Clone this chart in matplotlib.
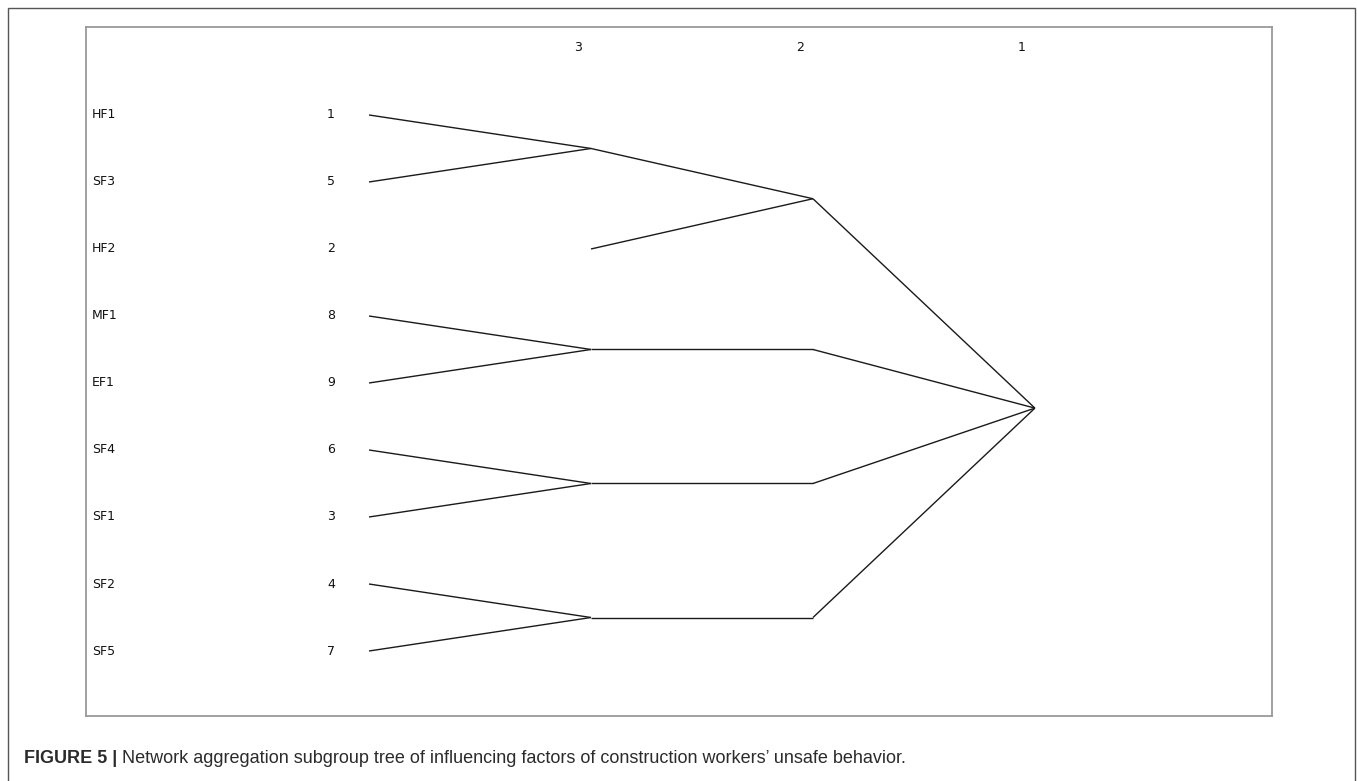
import numpy as np
import matplotlib
matplotlib.use('Agg')
import matplotlib.pyplot as plt
from matplotlib.patches import Rectangle

# Actors in row order (top to bottom) and their numeric ids
names = ['HF1', 'SF3', 'HF2', 'MF1', 'EF1', 'SF4', 'SF1', 'SF2', 'SF5']
ids = [1, 5, 2, 8, 9, 6, 3, 4, 7]

# Subgroups at each aggregation level (by actor id)
levels = [3, 2, 1]
groups = {
    3: [[1, 5], [2], [8, 9], [6, 3], [4, 7]],
    2: [[1, 5, 2], [8, 9], [6, 3], [4, 7]],
    1: [[1, 5, 2, 8, 9, 6, 3, 4, 7]],
}
leaf_level = 4

caption_bold = 'FIGURE 5 |'
caption_text = ' Network aggregation subgroup tree of influencing factors of construction workers\u2019 unsafe behavior.'

W, H = 1357, 781
fig = plt.figure(figsize=(W / 100, H / 100), dpi=100)
fig.patch.set_facecolor('white')

# outer frame of the figure panel
fig.add_artist(Rectangle((8 / W, -0.02), (1355 - 8) / W, 1.02 - 8 / H,
                         transform=fig.transFigure, fill=False,
                         edgecolor='#555555', linewidth=1.0))

ax = fig.add_axes([86 / W, 1 - 716 / H, (1272 - 86) / W, (716 - 27) / H])
ax.set_xlim(5.275, -0.068)
ax.set_ylim(8.97, -1.313)
ax.set_xticks([])
ax.set_yticks([])
for s in ax.spines.values():
    s.set_color('#9a9a9a')
    s.set_linewidth(1.3)

row = {a: i for i, a in enumerate(ids)}

# node positions: y of a subgroup is midpoint of its children's extreme y
pos = {leaf_level: {(a,): row[a] for a in ids}}
prev = leaf_level
for lv in levels:
    pos[lv] = {}
    for g in groups[lv]:
        kids = [k for k in pos[prev] if set(k) <= set(g)]
        ys = [pos[prev][k] for k in kids]
        y = (min(ys) + max(ys)) / 2
        pos[lv][tuple(g)] = y
        if prev == leaf_level and len(g) == 1:
            continue
        for k in kids:
            ax.plot([prev, lv], [pos[prev][k], y], color='#1a1a1a', lw=1.0,
                    solid_capstyle='butt')
    prev = lv

txt_kw = dict(fontsize=9, color='#111111', family='DejaVu Sans')
for i, (n, a) in enumerate(zip(names, ids)):
    ax.text(5.248, i, n, ha='left', va='center', **txt_kw)
    ax.text(4.171, i, str(a), ha='center', va='center', **txt_kw)
for lv in levels:
    ax.text(lv + 0.06, -1.0, str(lv), ha='center', va='center', **txt_kw)

# caption
cap_kw = dict(fontsize=13, color='#2b2b2b', family='Liberation Sans', va='baseline')
t1 = fig.text(24 / W, 1 - 763 / H, caption_bold, fontweight='bold', **cap_kw)
fig.canvas.draw()
bb = t1.get_window_extent()
fig.text(bb.x1 / W, 1 - 763 / H, caption_text, **cap_kw)

fig.savefig('out.png', dpi=100)
